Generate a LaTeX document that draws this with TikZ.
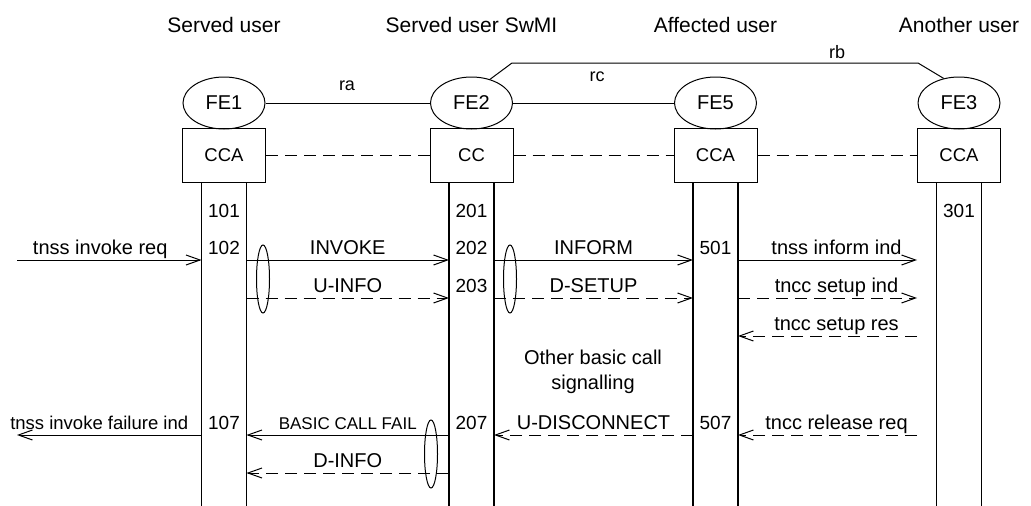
\documentclass[tikz,border=0pt]{standalone}
\usepackage{fontspec}
\setmainfont{Liberation Sans}
\usetikzlibrary{arrows.meta, shapes.geometric}

\tikzset{
    fe/.style={draw, ellipse, minimum width=82pt, minimum height=52pt, inner sep=0pt,
        font=\fontsize{20}{24}\selectfont},
    fa/.style={draw, rectangle, minimum width=83pt, minimum height=54pt, inner sep=0pt,
        font=\fontsize{18.5}{22}\selectfont},
    title/.style={font=\fontsize{21}{25}\selectfont},
    rel/.style={font=\fontsize{18}{22}\selectfont},
    lbl/.style={anchor=base, yshift=5.5pt, inner sep=0pt, font=\fontsize{20}{24}\selectfont},
    num/.style={anchor=base, yshift=5.5pt, inner sep=0pt, font=\fontsize{19}{23}\selectfont},
    life/.style={line width=1.2pt},
    msg/.style={->},
    dmsg/.style={->, dash pattern=on 12pt off 7pt},
}

\begin{document}
\begin{tikzpicture}[x=1pt, y=-1pt, line width=1pt,
    >={Straight Barb[length=14pt, width=10pt]}]
\useasboundingbox (0, 0) rectangle (1031, 506);
\begin{scope}
    % Titles
    \node[title] at (224, 25) {Served user};
    \node[title] at (471.5, 25) {Served user SwMI};
    \node[title] at (715.5, 25) {Affected user};
    \node[title] at (959, 25) {Another user};

    % Define nodes
    \draw (224, 103) node[fe] (FE1) {FE1};
    \draw (471.5, 103) node[fe] (FE2) {FE2};
    \draw (715.5, 103) node[fe] (FE5) {FE5};
    \draw (959, 103) node[fe] (FE3) {FE3};
    \draw (224, 155) node[fa] (CCA1) {CCA};
    \draw (471.5, 155) node[fa] (CC2) {CC};
    \draw (715.5, 155) node[fa] (CCA5) {CCA};
    \draw (959, 155) node[fa] (CCA3) {CCA};

    % Relations between the FEs
    \draw (FE1) -- (FE2);
    \draw (FE2) -- (FE5);
    \draw (FE2.52) -- (512, 63) -- (918, 63) -- (FE3.122);
    \node[rel] at (347, 86) {ra};
    \node[rel] at (597, 77) {rc};
    \node[rel] at (837, 52) {rb};

    % Dashed links between the boxes
    \draw[dash pattern=on 12pt off 7pt] (CCA1.east) -- (CC2.west);
    \draw[dash pattern=on 12pt off 7pt] (CC2.east) -- (CCA5.west);
    \draw[dash pattern=on 12pt off 7pt] (CCA5.east) -- (CCA3.west);

    % Lifelines
    \coordinate (L1) at (201.5, 182);
    \coordinate (R1) at (246.5, 182);
    \coordinate (L2) at (449, 182);
    \coordinate (R2) at (494, 182);
    \coordinate (L5) at (693, 182);
    \coordinate (R5) at (738, 182);
    \coordinate (L3) at (936.5, 182);
    \coordinate (R3) at (981.5, 182);
    \foreach \l in {L1, R1, L2, R2, L5, R5, L3, R3}
        \draw[life] (\l) -- ++(0, 324);
    \coordinate (env) at (17, 0);

    % Rows
    \coordinate (m0) at (0, 223);
    \coordinate (m1) at (0, 260);
    \coordinate (m2) at (0, 298);
    \coordinate (m3) at (0, 336);
    \coordinate (m4) at (0, 435);
    \coordinate (m5) at (0, 473);

    % Numbers
    \node[num] at (CCA1 |- m0) {101};
    \node[num] at (CCA1 |- m1) {102};
    \node[num] at (CCA1 |- m4) {107};
    \node[num] at (CC2 |- m0) {201};
    \node[num] at (CC2 |- m1) {202};
    \node[num] at (CC2 |- m2) {203};
    \node[num] at (CC2 |- m4) {207};
    \node[num] at (CCA5 |- m1) {501};
    \node[num] at (CCA5 |- m4) {507};
    \node[num] at (CCA3 |- m0) {301};

    % Messages
    \draw[msg] (env |- m1) -- node[lbl, xshift=-9pt] {tnss invoke req} (L1 |- m1);
    \draw[msg] (R1 |- m1) -- node[lbl] {INVOKE} (L2 |- m1);
    \draw[msg] (R2 |- m1) -- node[lbl] {INFORM} (L5 |- m1);
    \draw[msg] (R5 |- m1) -- node[lbl, xshift=9pt] {tnss inform ind} (CCA3.west |- m1);
    \draw[dmsg] (R1 |- m2) -- node[lbl] {U-INFO} (L2 |- m2);
    \draw[dmsg] (R2 |- m2) -- node[lbl] {D-SETUP} (L5 |- m2);
    \draw[dmsg] (R5 |- m2) -- node[lbl, xshift=9pt] {tncc setup ind} (CCA3.west |- m2);
    \draw[dmsg] (CCA3.west |- m3) -- node[lbl, xshift=9pt] {tncc setup res} (R5 |- m3);
    \node[align=center, font=\fontsize{20}{25}\selectfont] (other) at (593, 372)
        {Other basic call\\signalling};
    \draw[msg] (L1 |- m4) -- node[lbl, xshift=-10pt, font=\fontsize{18.5}{22}\selectfont]
        {tnss invoke failure ind} (env |- m4);
    \draw[msg] (L2 |- m4) -- node[lbl, font=\fontsize{17}{20}\selectfont]
        {BASIC CALL FAIL} (R1 |- m4);
    \draw[dmsg] (L5 |- m4) -- node[lbl] {U-DISCONNECT} (R2 |- m4);
    \draw[dmsg] (CCA3.west |- m4) -- node[lbl, xshift=9pt] {tncc release req} (R5 |- m4);
    \draw[dmsg] (L2 |- m5) -- node[lbl] {D-INFO} (R1 |- m5);

    % Grouping ellipses
    \draw (263, 279) ellipse [x radius=6.5, y radius=34];
    \draw (510, 279) ellipse [x radius=6.5, y radius=34];
    \draw (431, 454) ellipse [x radius=6.5, y radius=34];
\end{scope}
\end{tikzpicture}
\end{document}
